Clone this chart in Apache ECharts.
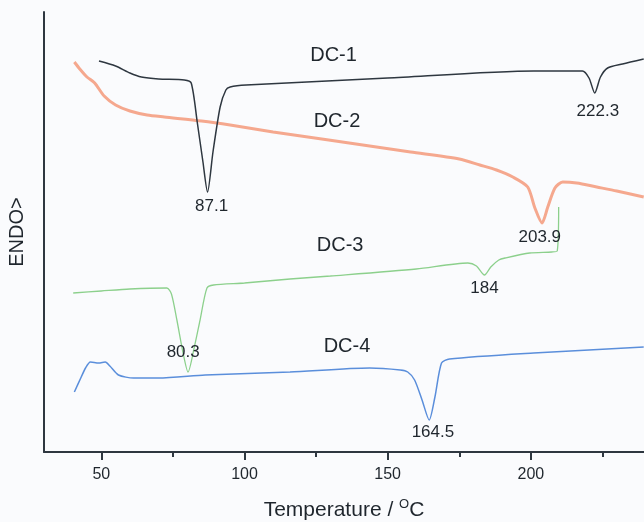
<!DOCTYPE html>
<html>
<head>
<meta charset="utf-8">
<script src="https://cdn.jsdelivr.net/npm/echarts@6/dist/echarts.min.js"></script>
<style>
html,body{margin:0;padding:0;background:#fafbfd;}
#c{width:644px;height:522px;}
</style>
</head>
<body>
<div id="c"></div>
<script>
// Temperature (°C) and signal (arbitrary units, ENDO up)
const dc1 = [[49.2,391],[55,386],[60,379],[64,375],[70,373],[79,372],[81.4,369],[83.5,330],[85.5,290],[87.1,260],[89,300],[91.5,345],[93.5,362],[95,365],[100.6,367],[150,374],[201,381],[218,381],[220.3,374],[222.3,359],[224.3,375],[226.8,384],[232,388],[239.4,393]];
const dc2 = [[40.6,390],[42.5,383],[45,375],[47.7,369],[51,356],[55,347],[60,341],[66,337],[72,335],[85,331],[95,327],[110,320],[129.4,312],[158,300],[175,293],[182.2,287],[188,282],[193.7,275],[198.9,265],[201.4,244],[203.9,229],[205.9,245],[208.4,264],[211.1,270],[216,269],[223,265],[230,261],[239.4,255]];
const dc3 = [[40.2,159],[50,161],[60,163],[72.9,164],[74.5,158],[76.4,132],[78.5,100],[80.3,80],[82.5,105],[84.5,132],[86.9,164],[89.2,167],[100,169],[115.9,173],[130,176],[160,183],[178,189],[181,186],[183.8,177],[186,185],[188.8,192],[191,194],[199.6,199],[207.3,200],[209.2,201],[209.7,245]];
const dc4 = [[40.6,60],[43,75],[44.5,84],[46.2,90],[49.1,89],[51.4,90],[53,86],[56,77],[61.3,74],[70,74],[86.3,77],[115.9,80],[143.7,84],[154.4,82],[157,80],[159.4,72],[162,52],[164.5,32],[166.5,55],[168.8,89],[171.6,93],[201,99],[239.4,105]];
const seriesNames = ['DC-1','DC-2','DC-3','DC-4'];
const peakTemps = [['87.1','222.3'],['203.9'],['184','80.3'],['164.5']];
const xTicks = [50,100,150,200];
const xMinorTicks = [75,125,175,225];

const seriesData = [dc1, dc2, dc3, dc4];
const colors = ['#2e3740','#f5a88e','#8cd08c','#5a8edb'];
const widths = [1.5, 3, 1.3, 1.5];
// label anchors (data coordinates)
const nameAnchors = [[131.1,397],[132.3,331],[133.4,207],[135.8,106]];
const peakAnchors = [[[88.5,246],[223.4,341]],[[203.1,215]],[[183.8,164],[78.6,100]],[[165.8,20]]];

const txt = '#1f262d';
const font = '"Liberation Sans", Arial, sans-serif';

const series = seriesData.map((d, i) => {
  const mp = [{coord: nameAnchors[i], value: seriesNames[i],
               label: {fontSize: 20, formatter: seriesNames[i]}}];
  peakTemps[i].forEach((t, j) => mp.push({coord: peakAnchors[i][j], value: t,
               label: {fontSize: 17, formatter: t}}));
  return {
    name: seriesNames[i], type: 'line', data: d, showSymbol: false, symbol: 'none',
    smooth: 0.25,
    lineStyle: {color: colors[i], width: widths[i]},
    itemStyle: {color: colors[i]},
    markPoint: {symbol: 'circle', symbolSize: 0, silent: true, data: mp,
      label: {show: true, position: 'inside', color: txt, fontFamily: font}},
    z: i === 1 ? 1 : 2
  };
});

const chart = echarts.init(document.getElementById('c'), null, {renderer: 'canvas'});
chart.setOption({
  animation: false,
  backgroundColor: '#fafbfd',
  grid: {left: 44, right: 0, top: 12, bottom: 70, containLabel: false, outerBoundsMode: 'none'},
  xAxis: [{
    type: 'value', min: 30, max: 239.5,
    name: 'Temperature / {sup|O}C', nameLocation: 'middle', nameGap: 46,
    nameTextStyle: {fontSize: 21, color: txt, fontFamily: font,
      rich: {sup: {fontSize: 13, verticalAlign: 'top', padding: [0,0,12,0], color: txt, fontFamily: font}}},
    axisLine: {show: true, onZero: false, lineStyle: {color: '#2e3740', width: 2}},
    axisTick: {show: true, customValues: xTicks, length: 8, inside: false, lineStyle: {color: '#2e3740', width: 2}},
    axisLabel: {customValues: xTicks, fontSize: 16, color: txt, margin: 15, fontFamily: font},
    splitLine: {show: false}
  }, {
    type: 'value', min: 30, max: 239.5, position: 'bottom',
    axisLine: {show: false},
    axisTick: {show: true, customValues: xMinorTicks, length: 5, lineStyle: {color: '#2e3740', width: 2}},
    axisLabel: {show: false},
    splitLine: {show: false}
  }],
  yAxis: {
    type: 'value', min: 0, max: 440,
    name: 'ENDO>', nameLocation: 'middle', nameRotate: 90, nameGap: 17,
    nameTextStyle: {fontSize: 20, color: txt, fontFamily: font},
    axisLine: {show: true, lineStyle: {color: '#2e3740', width: 2}},
    axisTick: {show: false}, axisLabel: {show: false}, splitLine: {show: false}
  },
  series: series
});
</script>
</body>
</html>
